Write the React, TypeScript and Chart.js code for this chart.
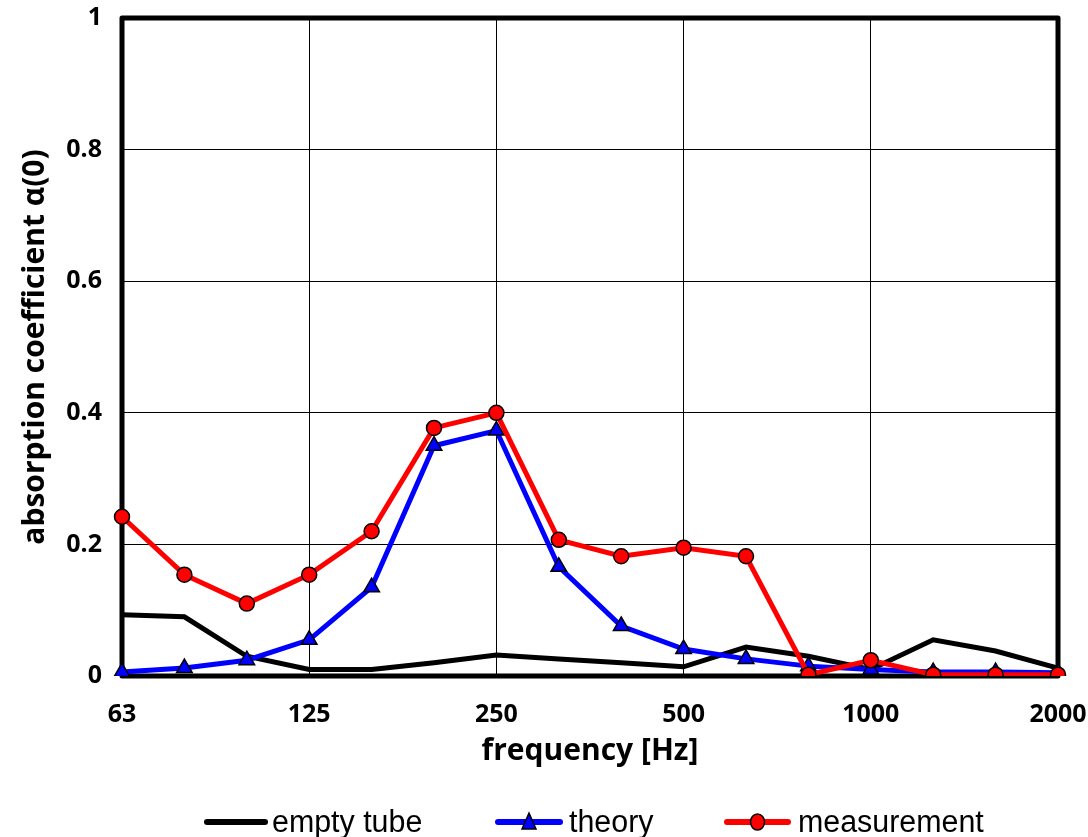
import React, { useEffect, useRef } from "react";
import { Chart, registerables } from "chart.js";

Chart.register(...registerables);

const frequencies = ["63", "80", "100", "125", "160", "200", "250", "315", "400", "500", "630", "800", "1000", "1250", "1600", "2000"];
const shownTicks = ["63", "125", "250", "500", "1000", "2000"];
const emptyTube = [0.093, 0.09, 0.03, 0.01, 0.01, 0.02, 0.032, 0.026, 0.02, 0.014, 0.044, 0.03, 0.01, 0.055, 0.038, 0.012];
const theory = [0.006, 0.012, 0.024, 0.055, 0.135, 0.35, 0.373, 0.166, 0.076, 0.041, 0.026, 0.015, 0.01, 0.006, 0.006, 0.005];
const measurement = [0.242, 0.154, 0.11, 0.154, 0.22, 0.377, 0.4, 0.207, 0.182, 0.195, 0.182, 0.002, 0.024, 0.002, 0.002, 0.002];
const seriesNames = ["empty tube", "theory", "measurement"];

const framePlugin = {
  id: "frame",
  beforeDatasetsDraw(chart: any) {
    const { ctx, chartArea } = chart;
    ctx.save();
    ctx.strokeStyle = "#000";
    ctx.lineWidth = 5;
    ctx.lineJoin = "round";
    ctx.strokeRect(chartArea.left, chartArea.top, chartArea.right - chartArea.left, chartArea.bottom - chartArea.top);
    ctx.restore();
  },
};

const legendPlugin = {
  id: "customLegend",
  afterDraw(chart: any) {
    const { ctx } = chart;
    const y = 822;
    const items = [
      { x0: 207, x1: 265, tx: 272, color: "#000", marker: "none", label: seriesNames[0] },
      { x0: 498, x1: 560, tx: 569, color: "#0000ff", marker: "triangle", label: seriesNames[1] },
      { x0: 727, x1: 788, tx: 798, color: "#ff0000", marker: "circle", label: seriesNames[2] },
    ];
    ctx.save();
    for (const it of items) {
      ctx.strokeStyle = it.color;
      ctx.lineWidth = 6;
      ctx.lineCap = "round";
      ctx.beginPath();
      ctx.moveTo(it.x0, y);
      ctx.lineTo(it.x1, y);
      ctx.stroke();
      const cx = (it.x0 + it.x1) / 2;
      ctx.lineWidth = 1.5;
      ctx.strokeStyle = "#000";
      if (it.marker === "circle") {
        ctx.fillStyle = "#ff0000";
        ctx.beginPath();
        ctx.ellipse(cx, y, 7, 8, 0, 0, Math.PI * 2);
        ctx.fill();
        ctx.stroke();
      } else if (it.marker === "triangle") {
        ctx.fillStyle = "#0000ff";
        ctx.beginPath();
        ctx.moveTo(cx, y - 9);
        ctx.lineTo(cx + 7, y + 7);
        ctx.lineTo(cx - 7, y + 7);
        ctx.closePath();
        ctx.fill();
        ctx.stroke();
      }
      ctx.fillStyle = "#000";
      ctx.font = "31px 'Liberation Sans'";
      ctx.textBaseline = "middle";
      ctx.save();
      ctx.translate(it.tx, y + 1);
      ctx.scale(0.98, 1);
      ctx.fillText(it.label, 0, 0);
      ctx.restore();
    }
    ctx.restore();
  },
};

export default function App() {
  const canvasRef = useRef<HTMLCanvasElement | null>(null);

  useEffect(() => {
    const canvas = canvasRef.current;
    if (!canvas) return;
    const chart = new Chart(canvas, {
      type: "line",
      data: {
        labels: frequencies,
        datasets: [
          {
            label: seriesNames[0],
            data: emptyTube,
            borderColor: "#000",
            borderWidth: 5,
            pointRadius: 0,
            pointHoverRadius: 0,
            tension: 0,
            order: 3,
          },
          {
            label: seriesNames[1],
            data: theory,
            borderColor: "#0000ff",
            backgroundColor: "#0000ff",
            borderWidth: 5,
            pointStyle: "triangle",
            pointRadius: 9,
            pointBackgroundColor: "#0000ff",
            pointBorderColor: "#000",
            pointBorderWidth: 1.5,
            tension: 0,
            order: 2,
          },
          {
            label: seriesNames[2],
            data: measurement,
            borderColor: "#ff0000",
            backgroundColor: "#ff0000",
            borderWidth: 5,
            pointStyle: "circle",
            pointRadius: 7.5,
            pointBackgroundColor: "#ff0000",
            pointBorderColor: "#000",
            pointBorderWidth: 1.5,
            tension: 0,
            order: 1,
          },
        ],
      },
      options: {
        animation: false,
        responsive: false,
        maintainAspectRatio: false,
        layout: { padding: { left: 0, top: 18, right: 30, bottom: 68 } },
        plugins: {
          legend: { display: false },
          tooltip: { enabled: false },
        },
        scales: {
          x: {
            type: "category",
            offset: false,
            border: { display: false },
            grid: {
              drawTicks: false,
              lineWidth: 1,
              color: (c: any) => (c.index % 3 === 0 ? "#000" : "rgba(0,0,0,0)"),
            },
            ticks: {
              autoSkip: false,
              maxRotation: 0,
              padding: 24,
              color: "#000",
              font: { family: "'Open Sans'", size: 25, weight: "bold" },
              callback: (_v: any, i: number) => (shownTicks.includes(frequencies[i]) ? frequencies[i] : ""),
            },
            title: {
              display: true,
              text: "frequency [Hz]",
              color: "#000",
              font: { family: "'Open Sans'", size: 30, weight: "bold" },
              padding: { top: 0, bottom: 0 },
            },
            afterFit: (s: any) => {
              s.height = 93;
              s.paddingLeft = 0;
              s.paddingRight = 0;
            },
          },
          y: {
            min: 0,
            max: 1,
            border: { display: false },
            grid: { drawTicks: false, color: "#000", lineWidth: 1 },
            ticks: {
              stepSize: 0.2,
              padding: 20,
              color: "#000",
              font: { family: "'Open Sans'", size: 25, weight: "bold" },
              callback: (v: any) => String(Number(Number(v).toFixed(1))),
            },
            title: {
              display: true,
              text: "absorption coefficient α(0)",
              color: "#000",
              font: { family: "'Open Sans'", size: 30, weight: "bold" },
              padding: { top: 17, bottom: 0 },
            },
            afterFit: (s: any) => {
              s.width = 122;
              s.paddingTop = 0;
              s.paddingBottom = 0;
            },
          },
        },
      },
      plugins: [framePlugin, legendPlugin],
    });
    return () => chart.destroy();
  }, []);

  return (
    <div style={{ position: "absolute", left: 0, top: 0, width: 1088, height: 837, background: "#fff" }}>
      <canvas ref={canvasRef} width={1088} height={837} style={{ display: "block" }} />
    </div>
  );
}
